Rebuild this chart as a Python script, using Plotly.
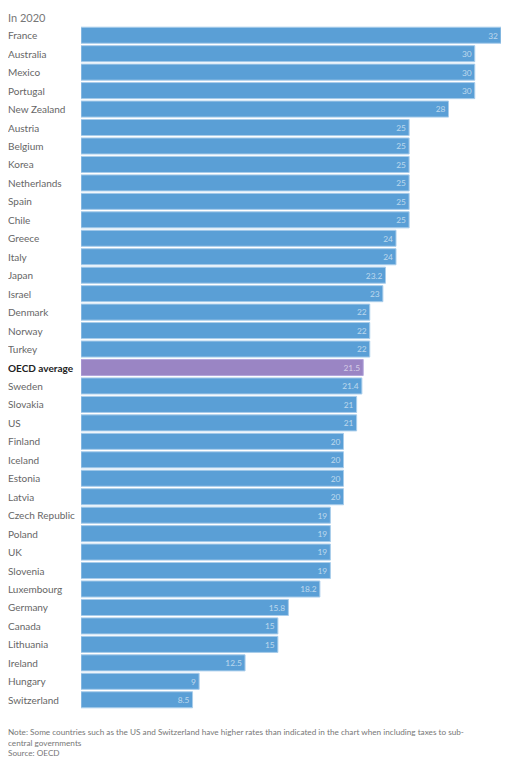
import plotly.graph_objects as go

countries = ["France", "Australia", "Mexico", "Portugal", "New Zealand", "Austria", "Belgium",
             "Korea", "Netherlands", "Spain", "Chile", "Greece", "Italy", "Japan", "Israel",
             "Denmark", "Norway", "Turkey", "OECD average", "Sweden", "Slovakia", "US",
             "Finland", "Iceland", "Estonia", "Latvia", "Czech Republic", "Poland", "UK",
             "Slovenia", "Luxembourg", "Germany", "Canada", "Lithuania", "Ireland",
             "Hungary", "Switzerland"]
rates = [32, 30, 30, 30, 28, 25, 25, 25, 25, 25, 25, 24, 24, 23.2, 23, 22, 22, 22, 21.5,
         21.4, 21, 21, 20, 20, 20, 20, 19, 19, 19, 19, 18.2, 15.8, 15, 15, 12.5, 9, 8.5]

BLUE = "#5A9FD6"
PURPLE = "#9A85C4"
colors = [PURPLE if c == "OECD average" else BLUE for c in countries]
lines = ["#B3A6DB" if c == "OECD average" else "#A9CDEB" for c in countries]

FONT = "Lato, 'Source Sans Pro', sans-serif"
PW = 420
PH = 683

fig = go.Figure(go.Bar(
    x=rates, y=countries, orientation="h",
    marker=dict(color=colors, line=dict(color=lines, width=1)),
    text=[f"{v:g}" for v in rates],
    textposition="inside", insidetextanchor="end", textangle=0,
    textfont=dict(family=FONT, size=10, color="rgba(255,255,255,0.6)"),
    cliponaxis=False,
    hoverinfo="x+y",
))

annotations = []
for c in countries:
    bold = c == "OECD average"
    annotations.append(dict(
        x=-75 / PW, xref="paper", y=c, yref="y", xanchor="left", yanchor="middle",
        text=f"<b>{c}</b>" if bold else c, showarrow=False,
        font=dict(family=FONT, size=10, color="#222" if bold else "#666"),
    ))
annotations.append(dict(
    x=-75 / PW, xref="paper", y=1 + 17 / PH, yref="paper", xanchor="left", yanchor="top",
    text="In 2020", showarrow=False, font=dict(family=FONT, size=11, color="#777"),
))
annotations.append(dict(
    x=-75 / PW, xref="paper", y=-16 / PH, yref="paper", xanchor="left", yanchor="top",
    align="left", showarrow=False,
    text="Note: Some countries such as the US and Switzerland have higher rates than indicated in the chart when including taxes to sub-<br>central governments<br>Source: OECD",
    font=dict(family=FONT, size=8.2, color="#777"),
))

fig.update_layout(
    width=501, height=768,
    margin=dict(l=73, r=8, t=18, b=67, autoexpand=False),
    paper_bgcolor="white", plot_bgcolor="white",
    bargap=0.13,
    showlegend=False,
    xaxis=dict(range=[0, 32], visible=False, fixedrange=True),
    yaxis=dict(autorange="reversed", showticklabels=False, showgrid=False,
               zeroline=False, fixedrange=True),
    annotations=annotations,
    uniformtext=dict(minsize=8, mode="show"),
)

fig.write_html("out.html")
